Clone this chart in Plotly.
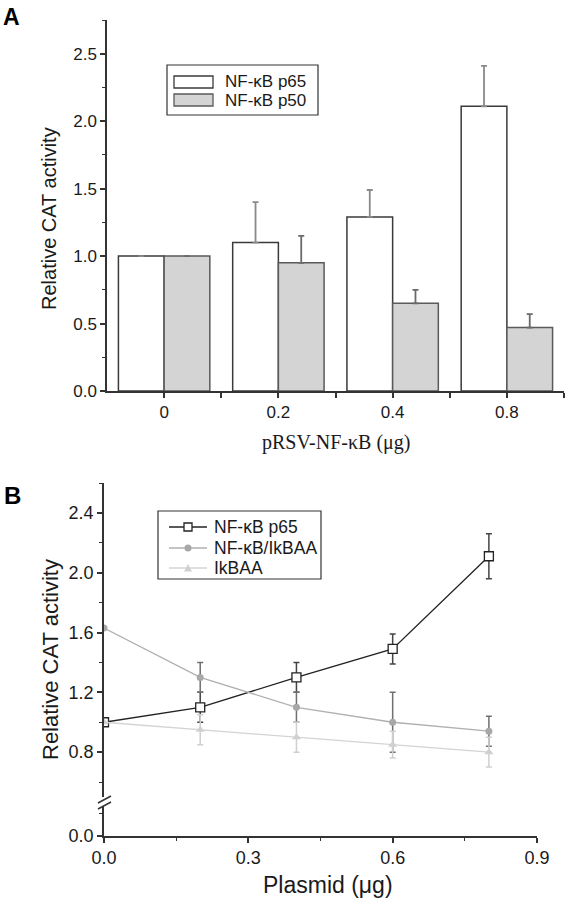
import plotly.graph_objects as go

W, H = 565, 904

# ---------------- Panel A data ----------------
a_categories = ["0", "0.2", "0.4", "0.8"]
a_p65 = [1.0, 1.10, 1.29, 2.11]
a_p65_err = [0.0, 0.30, 0.20, 0.30]
a_p50 = [1.0, 0.95, 0.65, 0.47]
a_p50_err = [0.0, 0.20, 0.10, 0.10]
a_names = ["NF-κB p65", "NF-κB p50"]

# ---------------- Panel B data ----------------
b_x = [0.0, 0.2, 0.4, 0.6, 0.8]
b_p65 = [1.0, 1.10, 1.30, 1.49, 2.11]
b_p65_err = [0.0, 0.10, 0.10, 0.10, 0.15]
b_nfk_ikb = [1.63, 1.30, 1.10, 1.00, 0.94]
b_nfk_ikb_err = [0.0, 0.10, 0.10, 0.20, 0.10]
b_ikbaa = [1.00, 0.95, 0.90, 0.85, 0.80]
b_ikbaa_err = [0.0, 0.10, 0.10, 0.09, 0.10]
b_names = ["NF-κB p65", "NF-κB/IkBAA", "IkBAA"]

FONT = "Liberation Sans, Arial, sans-serif"
SERIF = "Liberation Serif, Times New Roman, serif"
AX = "#333333"
TXT = "#1a1a1a"
P65_FILL, P65_LINE = "white", "#3a3a3a"
P50_FILL, P50_LINE = "#d4d4d4", "#5a5a5a"
B_COLORS = ["#222222", "#b0b0b0", "#d4d4d4"]
B_MARKER = ["#222222", "#a8a8a8", "#d0d0d0"]


def px(x):
    return x / W


def py(y):
    return 1 - y / H


fig = go.Figure()

a_pos = list(range(len(a_categories)))

fig.add_trace(go.Bar(
    x=a_pos, y=a_p65, name=a_names[0], xaxis="x", yaxis="y",
    marker=dict(color=P65_FILL, line=dict(color=P65_LINE, width=1.5)),
    error_y=dict(type="data", symmetric=False, array=a_p65_err,
                 arrayminus=[0] * len(a_p65), color="#8a8a8a",
                 thickness=1.8, width=3),
    showlegend=False,
))
fig.add_trace(go.Bar(
    x=a_pos, y=a_p50, name=a_names[1], xaxis="x", yaxis="y",
    marker=dict(color=P50_FILL, line=dict(color=P50_LINE, width=1.5)),
    error_y=dict(type="data", symmetric=False, array=a_p50_err,
                 arrayminus=[0] * len(a_p50), color="#6a6a6a",
                 thickness=1.8, width=3),
    showlegend=False,
))

fig.add_trace(go.Scatter(
    x=b_x, y=b_p65, name=b_names[0], xaxis="x2", yaxis="y2",
    mode="lines+markers",
    line=dict(color=B_COLORS[0], width=1.3),
    marker=dict(symbol="square", size=9, color="white",
                line=dict(color=B_MARKER[0], width=1.3)),
    error_y=dict(type="data", array=b_p65_err, color="#444444",
                 thickness=1.5, width=3),
    showlegend=False,
))
fig.add_trace(go.Scatter(
    x=b_x, y=b_nfk_ikb, name=b_names[1], xaxis="x2", yaxis="y2",
    mode="lines+markers",
    line=dict(color=B_COLORS[1], width=1.3),
    marker=dict(symbol="circle", size=7, color=B_MARKER[1]),
    error_y=dict(type="data", array=b_nfk_ikb_err, color="#707070",
                 thickness=1.5, width=3),
    showlegend=False,
))
fig.add_trace(go.Scatter(
    x=b_x, y=b_ikbaa, name=b_names[2], xaxis="x2", yaxis="y2",
    mode="lines+markers",
    line=dict(color=B_COLORS[2], width=1.3),
    marker=dict(symbol="triangle-up", size=8, color=B_MARKER[2]),
    error_y=dict(type="data", array=b_ikbaa_err, color="#cfcfcf",
                 thickness=1.5, width=3),
    showlegend=False,
))
# empty trace so the lower (broken) y segment of panel B exists
fig.add_trace(go.Scatter(x=[], y=[], xaxis="x2", yaxis="y3",
                         showlegend=False, hoverinfo="skip"))

axis_common = dict(showgrid=False, zeroline=False, showline=True,
                   automargin=False,
                   linecolor=AX, linewidth=1.5, ticks="outside",
                   tickcolor=AX, tickwidth=1.5, ticklen=5,
                   tickfont=dict(family=FONT, size=17, color=TXT))
tf18 = dict(family=FONT, size=18, color=TXT)

fig.update_layout(
    width=W, height=H,
    margin=dict(l=0, r=0, t=0, b=0, autoexpand=False),
    paper_bgcolor="white", plot_bgcolor="white",
    font=dict(family=FONT, color=TXT),
    barmode="group", bargap=0.2, bargroupgap=0,
    showlegend=False,
    xaxis=dict(axis_common, domain=[px(107), px(564)], range=[-0.5, 3.5],
               anchor="y", tickvals=a_pos, ticktext=a_categories,
               minor=dict(tickvals=[0.5, 1.5, 2.5, 3.5], ticks="outside",
                          ticklen=5, tickcolor=AX, tickwidth=1.5)),
    yaxis=dict(axis_common, domain=[py(391), py(20)], range=[0, 2.75],
               anchor="x", tick0=0, dtick=0.5, tickformat=".1f",
               minor=dict(dtick=0.25, ticks="outside", ticklen=3,
                          tickcolor=AX, tickwidth=1.2)),
    xaxis2=dict(axis_common, domain=[px(104), px(537)], range=[0, 0.9],
                anchor="y3", tick0=0, dtick=0.3, tickformat=".1f",
                tickfont=tf18,
                minor=dict(dtick=0.15, ticks="outside", ticklen=3,
                           tickcolor=AX, tickwidth=1.2)),
    yaxis2=dict(axis_common, domain=[py(797), py(483)], range=[0.5, 2.6],
                anchor="x2", tick0=0, dtick=0.4, tickformat=".1f",
                tickfont=tf18,
                minor=dict(dtick=0.2, ticks="outside", ticklen=3,
                           tickcolor=AX, tickwidth=1.2)),
    yaxis3=dict(axis_common, domain=[py(836), py(806)], range=[0, 0.2],
                anchor="x2", tickvals=[0], ticktext=["0.0"],
                tickfont=tf18,
                minor=dict(tickvals=[0.15], ticks="outside", ticklen=3,
                           tickcolor=AX, tickwidth=1.2)),
)

annotations = [
    dict(text="<b>A</b>", x=px(1), y=py(2), xanchor="left", yanchor="top",
         font=dict(family=FONT, size=23, color="black")),
    dict(text="<b>B</b>", x=px(2), y=py(480), xanchor="left", yanchor="top",
         font=dict(family=FONT, size=24, color="black")),
    dict(text="Relative CAT activity", x=px(49), y=py(219), textangle=-90,
         xanchor="center", yanchor="middle",
         font=dict(family=FONT, size=20, color=TXT)),
    dict(text="pRSV-NF-κB (μg)", x=px(336), y=py(443),
         xanchor="center", yanchor="middle",
         font=dict(family=SERIF, size=20, color=TXT)),
    dict(text="Relative CAT activity", x=px(50), y=py(660), textangle=-90,
         xanchor="center", yanchor="middle",
         font=dict(family=FONT, size=22, color=TXT)),
    dict(text="Plasmid (μg)", x=px(328), y=py(885),
         xanchor="center", yanchor="middle",
         font=dict(family=FONT, size=23, color=TXT)),
]
# panel A legend texts
for name, yy in zip(a_names, [82, 100]):
    annotations.append(dict(text=name, x=px(223), y=py(yy), xanchor="left",
                            yanchor="middle",
                            font=dict(family=FONT, size=17, color=TXT)))
# panel B legend texts
for name, yy in zip(b_names, [527, 548, 568]):
    annotations.append(dict(text=name, x=px(212), y=py(yy), xanchor="left",
                            yanchor="middle",
                            font=dict(family=FONT, size=17.5, color=TXT)))
for a in annotations:
    a.update(xref="paper", yref="paper", showarrow=False)
fig.update_layout(annotations=annotations)

shapes = [
    # panel A legend box and swatches
    dict(type="rect", x0=px(167), x1=px(318), y0=py(115), y1=py(65),
         line=dict(color="#333333", width=1.2), fillcolor="white"),
    dict(type="rect", x0=px(174), x1=px(213), y0=py(88), y1=py(76),
         line=dict(color=P65_LINE, width=1.3), fillcolor=P65_FILL),
    dict(type="rect", x0=px(174), x1=px(213), y0=py(106), y1=py(94),
         line=dict(color=P50_LINE, width=1.3), fillcolor=P50_FILL),
    # panel B legend box
    dict(type="rect", x0=px(158), x1=px(321), y0=py(579), y1=py(511),
         line=dict(color="#333333", width=1.2), fillcolor="white"),
]
# panel B legend line samples and markers
for col, yy in zip(B_COLORS, [527, 548, 568]):
    shapes.append(dict(type="line", x0=px(169), x1=px(207), y0=py(yy),
                       y1=py(yy), line=dict(color=col, width=1.3)))
shapes.append(dict(type="rect", x0=px(184), x1=px(192), y0=py(531),
                   y1=py(523), line=dict(color=B_MARKER[0], width=1.3),
                   fillcolor="white"))
shapes.append(dict(type="circle", x0=px(184.5), x1=px(191.5), y0=py(551.5),
                   y1=py(544.5), line=dict(width=0), fillcolor=B_MARKER[1]))
tri = "M{:.5f},{:.5f} L{:.5f},{:.5f} L{:.5f},{:.5f} Z".format(
    px(184), py(571.5), px(192), py(571.5), px(188), py(564))
shapes.append(dict(type="path", path=tri, line=dict(width=0),
                   fillcolor=B_MARKER[2]))
# axis break marks on panel B's y axis
shapes += [
    dict(type="rect", x0=px(98), x1=px(111), y0=py(806), y1=py(798),
         line=dict(width=0), fillcolor="white"),
    dict(type="line", x0=px(98), y0=py(803), x1=px(111), y1=py(796),
         line=dict(color=AX, width=1.5)),
    dict(type="line", x0=px(98), y0=py(809), x1=px(111), y1=py(802),
         line=dict(color=AX, width=1.5)),
]
for s in shapes:
    s.update(xref="paper", yref="paper")
fig.update_layout(shapes=shapes)

fig.write_html(
    "out.html",
    config={"displayModeBar": False},
    post_script="document.body.style.margin='0';"
                "document.body.style.overflow='hidden';",
)
